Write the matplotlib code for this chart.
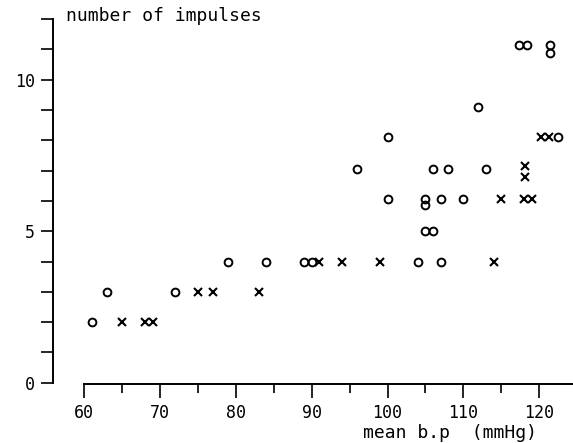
import matplotlib
matplotlib.use("Agg")
import matplotlib.pyplot as plt
from matplotlib.ticker import MultipleLocator, FixedLocator

# mean blood pressure (mmHg) vs number of impulses
circle_bp = [61, 63, 72, 79, 84, 89, 90, 96, 100, 100, 104, 105, 106,
             105, 105, 107, 110, 107, 106, 108, 112, 113,
             117.4, 118.4, 121.5, 121.5, 122.5]
circle_n = [2, 3, 3, 4, 4, 4, 4, 7.05, 6.05, 8.1, 4, 5, 5,
            6.07, 5.85, 6.05, 6.05, 4, 7.05, 7.05, 9.1, 7.05,
            11.15, 11.15, 11.15, 10.87, 8.1]

cross_bp = [65, 68, 69, 75, 77, 83, 91, 94, 99, 114, 115, 118, 119,
            118.2, 118.2, 120.2, 121.3]
cross_n = [2, 2, 2, 3, 3, 3, 4, 4, 4, 4, 6.05, 6.05, 6.05,
           7.15, 6.8, 8.1, 8.1]

x_ticks = [60, 70, 80, 90, 100, 110, 120]
y_ticks = [0, 5, 10]

mono = "DejaVu Sans Mono"

fig = plt.figure(figsize=(5.73, 4.43), dpi=100)
ax = fig.add_axes([0.093, 0.1361, 0.907, 0.8208])

ax.plot(circle_bp, circle_n, linestyle="none", marker="o", markersize=5.6,
        markerfacecolor="none", markeredgecolor="black", markeredgewidth=1.4)
ax.plot(cross_bp, cross_n, linestyle="none", marker="x", markersize=5.2,
        markeredgecolor="black", markeredgewidth=1.5)

ax.set_xlim(55.91, 124.47)
ax.set_ylim(0, 12)

# detached axes: y axis from 0 to 12, x axis starting at 60
ax.spines["top"].set_visible(False)
ax.spines["right"].set_visible(False)
ax.spines["left"].set_bounds(0, 12)
ax.spines["bottom"].set_bounds(60, 124.47)
ax.spines["bottom"].set_position(("outward", 1))
for side in ["left", "bottom"]:
    ax.spines[side].set_linewidth(1.4)

ax.xaxis.set_major_locator(FixedLocator(x_ticks))
ax.xaxis.set_minor_locator(MultipleLocator(5))
ax.yaxis.set_major_locator(FixedLocator(y_ticks))
ax.yaxis.set_minor_locator(MultipleLocator(1))

ax.tick_params(axis="x", which="major", direction="out", length=10, width=1.2, pad=4)
ax.tick_params(axis="x", which="minor", direction="out", length=6.5, width=1.2)
ax.tick_params(axis="y", which="both", direction="out", length=9, width=1.2, pad=4)

ax.set_xticklabels([str(v) for v in x_ticks], fontfamily=mono, fontsize=12)
ax.set_yticklabels([str(v) for v in y_ticks], fontfamily=mono, fontsize=12)

fig.text(66 / 573, 1 - 16 / 443, "number of impulses", ha="left", va="center",
         fontfamily=mono, fontsize=13)
fig.text(450 / 573, 1 - 433 / 443, "mean b.p  (mmHg)", ha="center", va="center",
         fontfamily=mono, fontsize=13)

fig.savefig("out.png", dpi=100)
